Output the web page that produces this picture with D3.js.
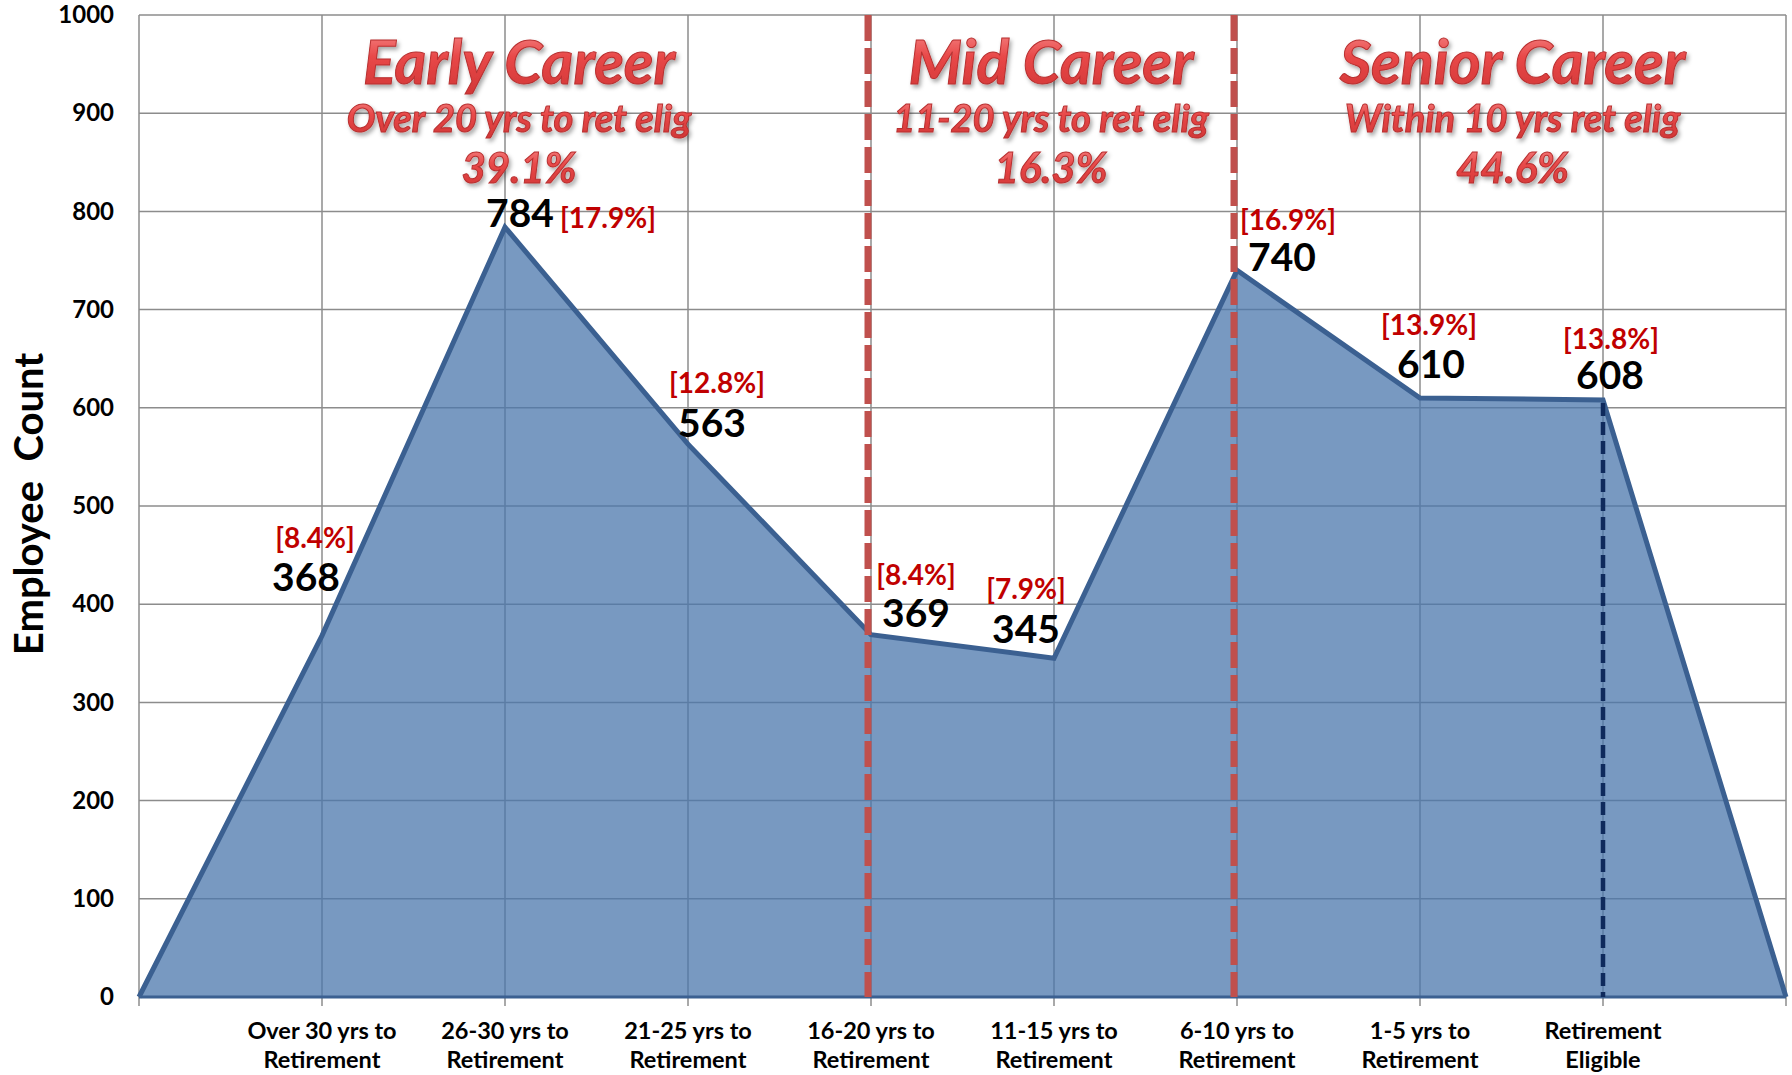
<!DOCTYPE html>
<html>
<head>
<meta charset="utf-8">
<script src="https://cdn.jsdelivr.net/npm/d3@7"></script>
<style>
  body { margin: 0; background: #fff; }
  svg { display: block; font-family: Lato, "Open Sans", sans-serif; }
</style>
</head>
<body>
<div id="chart"></div>
<script>
// data (first and last points are the empty ends of the area)
const categories = ["", "Over 30 yrs to\nRetirement", "26-30 yrs to\nRetirement", "21-25 yrs to\nRetirement",
    "16-20 yrs to\nRetirement", "11-15 yrs to\nRetirement", "6-10 yrs to\nRetirement",
    "1-5 yrs to\nRetirement", "Retirement\nEligible", ""];
const counts = [0, 368, 784, 563, 369, 345, 740, 610, 608, 0];
const shares = [null, "8.4%", "17.9%", "12.8%", "8.4%", "7.9%", "16.9%", "13.9%", "13.8%", null];
const yTicks = [0, 100, 200, 300, 400, 500, 600, 700, 800, 900, 1000];

const stageNames = ["Early Career", "Mid Career", "Senior Career"];
const stageNotes = ["Over 20 yrs to ret elig", "11-20 yrs to ret elig", "Within 10 yrs ret elig"];
const stageShares = ["39.1%", "16.3%", "44.6%"];
const stageBounds = [[0, 4], [4, 6], [6, 9]];   // category index ranges
const stageDividers = [4, 6];
const eligibleIndex = 8;

// label placement (px offsets from the point)
const valueOffsets = [null, [-16, -45], [15, 0], [24, -7], [45, -8], [-28, -15], [45, 1], [11, -20], [7, -11], null];
const shareOffsets = [null, [-7, -88], [103, 1], [29, -51], [45, -50], [-28, -59], [51, -40], [9, -63], [8, -51], null];
const stageShift = [14, -3, 1];

const W = 1792, H = 1075;
const margin = {top: 15, right: 6, bottom: 78, left: 139};
const width = W - margin.left - margin.right,
      height = H - margin.top - margin.bottom;

const svg = d3.select("#chart").append("svg")
    .attr("width", W)
    .attr("height", H);

const defs = svg.append("defs");
const grad = defs.append("linearGradient")
    .attr("id", "redGrad").attr("x1", 0).attr("y1", 0).attr("x2", 0).attr("y2", 1);
grad.append("stop").attr("offset", "0%").attr("stop-color", "#f79090");
grad.append("stop").attr("offset", "45%").attr("stop-color", "#e84848");
grad.append("stop").attr("offset", "100%").attr("stop-color", "#d03535");
defs.append("filter").attr("id", "shadow")
    .attr("x", "-10%").attr("y", "-20%").attr("width", "120%").attr("height", "150%")
  .append("feDropShadow")
    .attr("dx", 2).attr("dy", 3).attr("stdDeviation", 2)
    .attr("flood-color", "#000").attr("flood-opacity", 0.35);

const g = svg.append("g").attr("transform", `translate(${margin.left},${margin.top})`);

const x = d3.scalePoint()
    .domain(d3.range(categories.length))
    .range([0, width]);

const y = d3.scaleLinear()
    .domain([0, 1000])
    .range([height, 0]);

// grid
g.append("g").selectAll("line")
    .data(yTicks)
    .enter().append("line")
    .attr("x1", 0).attr("x2", width)
    .attr("y1", d => y(d)).attr("y2", d => y(d))
    .attr("stroke", "#8c8c8c").attr("stroke-width", 1.5);

g.append("g").selectAll("line")
    .data(x.domain())
    .enter().append("line")
    .attr("x1", d => x(d)).attr("x2", d => x(d))
    .attr("y1", 0).attr("y2", height + 9)
    .attr("stroke", "#8c8c8c").attr("stroke-width", 1.5);

// area
const area = d3.area()
    .x((d, i) => x(i))
    .y0(y(0))
    .y1(d => y(d));

const line = d3.line()
    .x((d, i) => x(i))
    .y(d => y(d));

g.append("path")
    .datum(counts)
    .attr("d", area)
    .attr("fill", "#4b77ac")
    .attr("fill-opacity", 0.75);

g.append("line")
    .attr("x1", 0).attr("x2", width)
    .attr("y1", y(0)).attr("y2", y(0))
    .attr("stroke", "#3b6091").attr("stroke-width", 3);

g.append("path")
    .datum(counts)
    .attr("d", line)
    .attr("fill", "none")
    .attr("stroke", "#3b6091")
    .attr("stroke-width", 5)
    .attr("stroke-linejoin", "miter");

// stage dividers (sit just left of the category line)
g.selectAll(".divider")
    .data(stageDividers)
    .enter().append("line")
    .attr("class", "divider")
    .attr("x1", d => x(d) - 3).attr("x2", d => x(d) - 3)
    .attr("y1", 0).attr("y2", height)
    .attr("stroke", "#c0504d")
    .attr("stroke-width", 7)
    .attr("stroke-dasharray", "26,7");

g.append("line")
    .attr("x1", x(eligibleIndex)).attr("x2", x(eligibleIndex))
    .attr("y1", y(counts[eligibleIndex]) + 3).attr("y2", height)
    .attr("stroke", "#0f2a5c")
    .attr("stroke-width", 4.5)
    .attr("stroke-dasharray", "13,6");

// y axis
const yAxis = g.append("g")
    .call(d3.axisLeft(y).tickValues(yTicks).tickFormat(d3.format("d")).tickSize(0).tickPadding(25));
yAxis.select(".domain").remove();
yAxis.selectAll("text")
    .attr("font-family", "Lato, sans-serif")
    .attr("font-size", 24)
    .attr("font-weight", "bold")
    .attr("fill", "#000");

g.append("text")
    .attr("transform", `translate(${28 - margin.left},${y(500) - 2}) rotate(-90)`)
    .attr("text-anchor", "middle")
    .attr("dominant-baseline", "central")
    .attr("font-size", 40)
    .attr("font-weight", "bold")
    .attr("xml:space", "preserve")
    .text("Employee  Count");

// x labels
const xl = g.append("g").selectAll("text")
    .data(categories)
    .enter().append("text")
    .attr("x", (d, i) => x(i))
    .attr("y", height + 42)
    .attr("text-anchor", "middle")
    .attr("font-size", 23.5)
    .attr("font-weight", "bold");
xl.selectAll("tspan")
    .data(d => d ? d.split("\n") : [])
    .enter().append("tspan")
    .attr("x", function() { return this.parentNode.getAttribute("x"); })
    .attr("dy", (d, i) => i ? 29 : 0)
    .text(d => d);

// point labels
const pts = counts.map((v, i) => ({v, i})).filter(d => shares[d.i]);

g.selectAll(".val")
    .data(pts)
    .enter().append("text")
    .attr("class", "val")
    .attr("x", d => x(d.i) + valueOffsets[d.i][0])
    .attr("y", d => y(d.v) + valueOffsets[d.i][1])
    .attr("text-anchor", "middle")
    .attr("font-size", 39)
    .attr("font-weight", "bold")
    .attr("fill", "#000")
    .text(d => d.v);

g.selectAll(".pct")
    .data(pts)
    .enter().append("text")
    .attr("class", "pct")
    .attr("x", d => x(d.i) + shareOffsets[d.i][0])
    .attr("y", d => y(d.v) + shareOffsets[d.i][1])
    .attr("text-anchor", "middle")
    .attr("font-size", 28)
    .attr("font-weight", "bold")
    .attr("fill", "#c00000")
    .text(d => "[" + shares[d.i] + "]");

// stage titles
const st = g.selectAll(".stage")
    .data(stageNames)
    .enter().append("g")
    .attr("class", "stage")
    .attr("transform", (d, i) =>
        `translate(${(x(stageBounds[i][0]) + x(stageBounds[i][1])) / 2 + stageShift[i]},0)`)
    .attr("filter", "url(#shadow)")
    .attr("fill", "url(#redGrad)")
    .attr("stroke", "#b83030")
    .attr("stroke-width", 1)
    .attr("font-style", "italic")
    .attr("font-weight", "bold")
    .attr("text-anchor", "middle");

st.append("text")
    .attr("y", 69)
    .attr("font-size", 61)
    .text(d => d);
st.append("text")
    .attr("y", 117)
    .attr("font-size", 38)
    .text((d, i) => stageNotes[i]);
st.append("text")
    .attr("y", 168)
    .attr("font-size", 42)
    .text((d, i) => stageShares[i]);
</script>
</body>
</html>
